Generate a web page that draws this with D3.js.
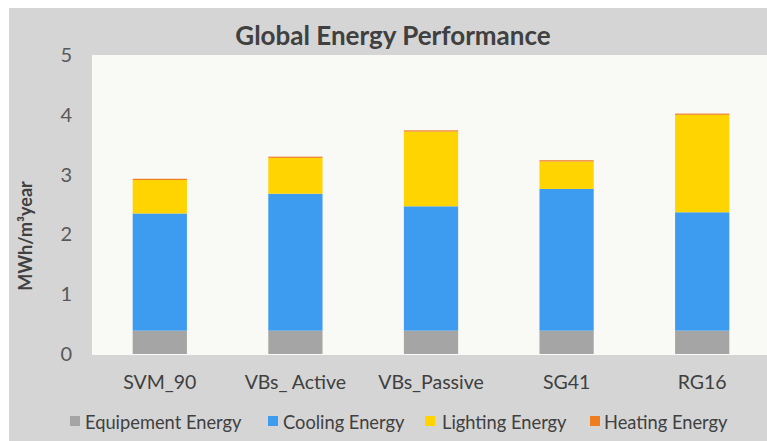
<!DOCTYPE html>
<html><head><meta charset="utf-8">
<script src="https://cdn.jsdelivr.net/npm/d3@7"></script>
<style>body{margin:0;background:#fff}svg{display:block}text{font-family:Lato,"Open Sans",sans-serif}</style>
</head><body>
<svg id="c" width="767" height="441"></svg>
<script>
const categories = ["SVM_90", "VBs_ Active", "VBs_Passive", "SG41", "RG16"];
const seriesNames = ["Equipement Energy", "Cooling Energy", "Lighting Energy", "Heating Energy"];
const equipment = [0.39, 0.39, 0.39, 0.39, 0.39];
const cooling   = [1.96, 2.29, 2.08, 2.37, 1.98];
const lighting  = [0.56, 0.60, 1.25, 0.46, 1.63];
const heating   = [0.02, 0.02, 0.02, 0.02, 0.02];
const yTicks = [0, 1, 2, 3, 4, 5];
const colors = ["#a5a5a5", "#3d9cf0", "#ffd400", "#f07c20"];

const svg = d3.select("#c");
svg.append("rect").attr("x", 9).attr("y", 8).attr("width", 758).attr("height", 433).attr("fill", "#d5d5d5");

const x = d3.scaleBand().domain(categories).range([92, 770]).paddingInner(0.6).paddingOuter(0.3);
const y = d3.scaleLinear().domain([0, 5]).range([354, 55]);

svg.append("rect").attr("x", 92).attr("y", 55).attr("width", 678).attr("height", 300).attr("fill", "#f9f9f6");

const table = categories.map((c, i) => ({cat: c, s0: equipment[i], s1: cooling[i], s2: lighting[i], s3: heating[i]}));
const stack = d3.stack().keys(["s0", "s1", "s2", "s3"])(table);

svg.append("g").selectAll("g").data(stack).join("g")
  .attr("fill", (d, i) => colors[i])
  .selectAll("rect").data(d => d).join("rect")
  .attr("x", d => x(d.data.cat))
  .attr("width", x.bandwidth())
  .attr("y", d => y(d[1]))
  .attr("height", d => Math.max(y(d[0]) - y(d[1]), 1.2));

// y axis
const ya = svg.append("g").attr("transform", "translate(92,0)")
  .call(d3.axisLeft(y).tickValues(yTicks).tickFormat(d3.format("d")).tickSize(0).tickPadding(20));
ya.select(".domain").remove();
ya.selectAll("text").attr("fill", "#595959").style("font-size", "20px").style("font-family", "Lato");

// x axis
const xa = svg.append("g").attr("transform", "translate(0,354)")
  .call(d3.axisBottom(x).tickSize(0).tickPadding(21));
xa.select(".domain").remove();
xa.selectAll("text").attr("fill", "#404040").style("font-size", "19.5px").style("font-family", "Lato");

// title
svg.append("text").attr("x", 393).attr("y", 45).attr("text-anchor", "middle")
  .attr("fill", "#404040").style("font-size", "26px").style("font-weight", "bold")
  .text("Global Energy Performance");

// y label
svg.append("text").attr("transform", "translate(32,236) rotate(-90)").attr("text-anchor", "middle")
  .attr("fill", "#404040").style("font-size", "18px").style("font-weight", "bold")
  .text("MWh/m³year");

// legend
const legSq = [70, 268, 425, 590];
const legTx = [85, 283, 442, 604];
const leg = svg.append("g").selectAll("g").data(seriesNames).join("g");
leg.append("rect").attr("x", (d, i) => legSq[i]).attr("y", 416).attr("width", 10).attr("height", 10).attr("fill", (d, i) => colors[i]);
leg.append("text").attr("x", (d, i) => legTx[i]).attr("y", 429).attr("fill", "#404040").style("font-size", "18.3px").text(d => d);
</script>
</body></html>
